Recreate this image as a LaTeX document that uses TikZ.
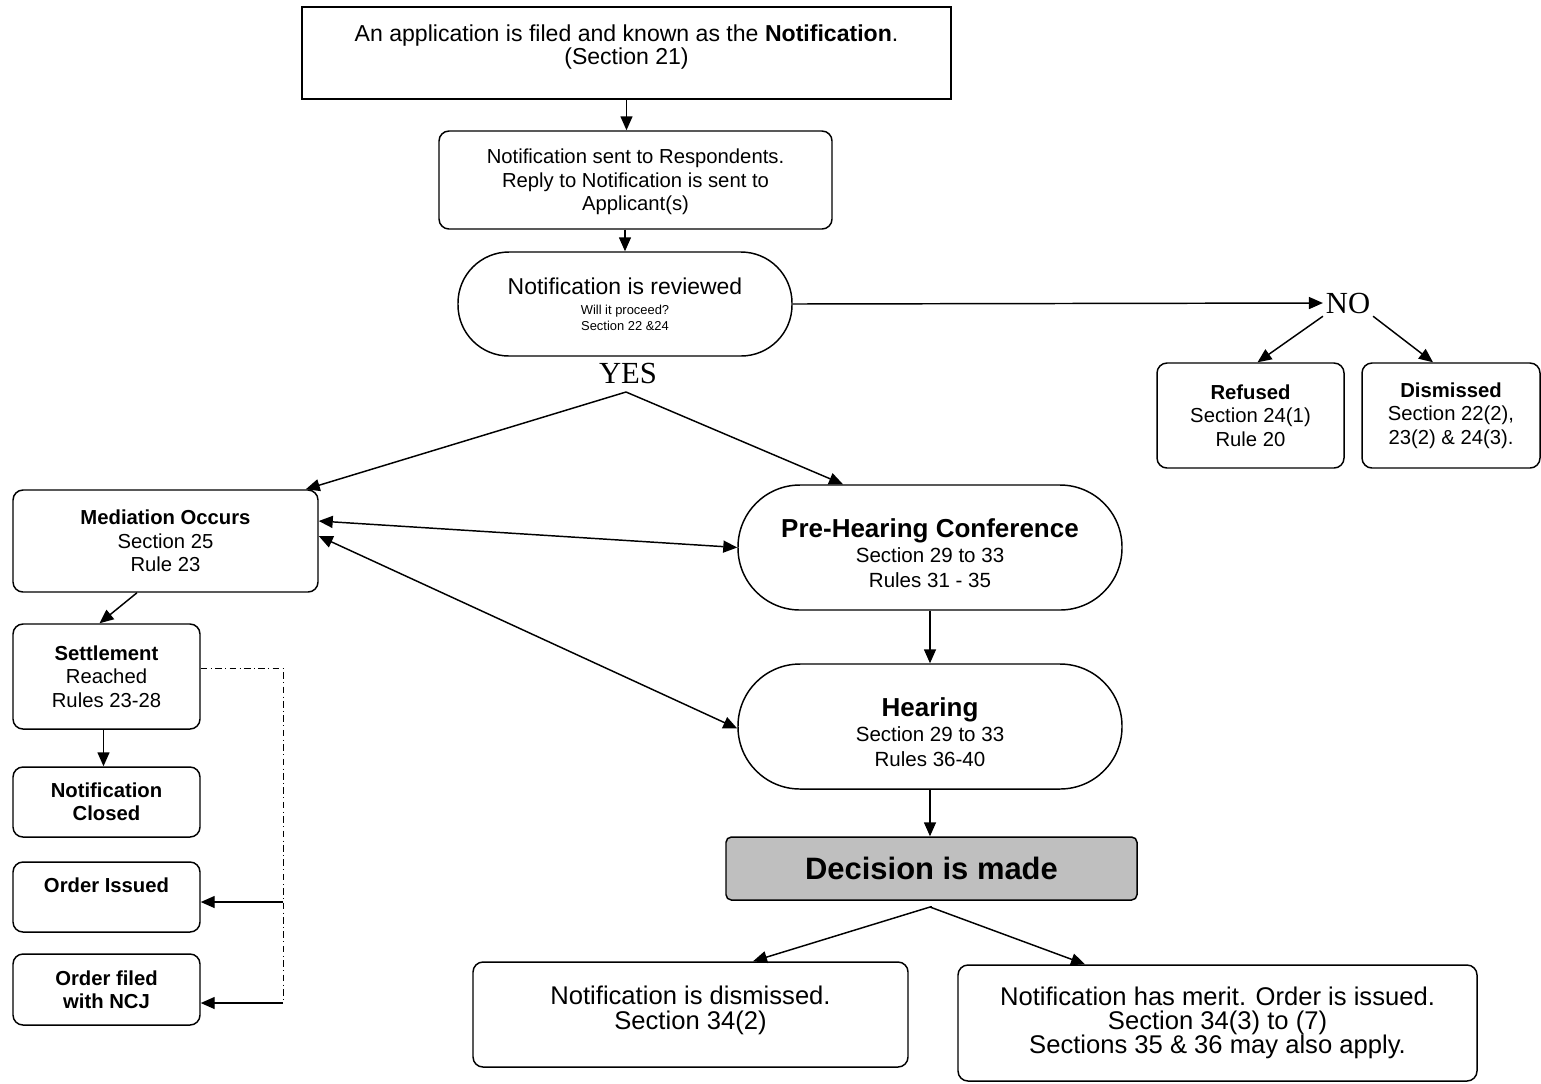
\documentclass[tikz,border=0pt]{standalone}
\usepackage{fontspec}
\setmainfont{Liberation Sans}
\newfontfamily\yesfont{Liberation Serif}
\usetikzlibrary{arrows.meta}
\def\u{0.75pt}
\newcommand\fTop{\fontsize{17.3pt}{17.4pt}\selectfont}
\newcommand\fMid{\fontsize{15.2pt}{17.5pt}\selectfont}
\newcommand\fSm{\fontsize{9.7pt}{12pt}\selectfont}
\newcommand\fRev{\fontsize{17.2pt}{12pt}\selectfont}
\newcommand\fPre{\fontsize{19.5pt}{18.7pt}\selectfont}
\newcommand\fSec{\fontsize{15.4pt}{18.7pt}\selectfont}
\newcommand\fDec{\fontsize{23.2pt}{24pt}\selectfont}
\newcommand\fBot{\fontsize{19.2pt}{18.2pt}\selectfont}
\newcommand\fYN{\fontsize{23pt}{24pt}\selectfont}
\tikzset{
  box/.style={draw, line width=1.1pt, rounded corners=7.5pt, inner sep=0pt, align=center},
  sqbox/.style={draw, line width=1.1pt, inner sep=0pt, align=center},
  arr/.style={line width=1.1pt, -{Triangle[length=10.5pt,width=9pt]}},
  darr/.style={line width=1.1pt, {Triangle[length=10.5pt,width=9pt]}-{Triangle[length=10.5pt,width=9pt]}},
  ln/.style={line width=1.1pt},
  dd/.style={line width=0.7pt, dash pattern=on 5pt off 2.5pt on 0.8pt off 2.5pt}
}
\begin{document}
\begin{tikzpicture}[x=0.75pt,y=-0.75pt]
\fill[white] (0,0) rectangle (1541,1083);
\useasboundingbox (0,0) rectangle (1541,1083);

% top flow
\node[sqbox, minimum width=649*\u, minimum height=92*\u, font=\fTop] (top) at (626.5,53)
  {An application is filed and known as the \textbf{Notification}.\\(Section 21)\\[-4.8pt]\mbox{}};
\node[box, minimum width=393*\u, minimum height=98*\u, font=\fMid] (send) at (635.5,180)
  {\rule{0pt}{14pt}Notification sent to Respondents.\\Reply to Notification is sent to\\Applicant(s)};
\node[box, rounded corners=51*\u, minimum width=334*\u, minimum height=104*\u, font=\fSm] (rev) at (625,304)
  {{\fRev Notification is reviewed}\\[3pt]Will it proceed?\\Section 22 \&24};
\node[inner sep=2pt, font=\yesfont\fYN] (no) at (1348,303) {NO};
\node[inner sep=2pt, font=\yesfont\fYN] (yes) at (628,373) {YES};
\coordinate (ya) at (626,392);

% refused / dismissed
\node[box, minimum width=187*\u, minimum height=105*\u, font=\fMid] (ref) at (1250.5,415.5)
  {\textbf{Refused}\\Section 24(1)\\Rule 20};
\node[box, minimum width=178*\u, minimum height=105*\u, font=\fMid] (dis) at (1451,415.5)
  {\textbf{Dismissed}\\Section 22(2),\\23(2) \& 24(3).};

% left column
\node[box, minimum width=305*\u, minimum height=102*\u, font=\fMid] (med) at (165.5,541)
  {\textbf{Mediation Occurs}\\Section 25\\Rule 23};
\node[box, minimum width=187*\u, minimum height=105*\u, font=\fMid] (set) at (106.5,676.5)
  {\textbf{Settlement}\\Reached\\Rules 23-28};
\node[box, minimum width=187*\u, minimum height=70*\u, font=\fMid\bfseries] (nc) at (106.5,802)
  {Notification\\Closed};
\node[box, minimum width=187*\u, minimum height=70*\u, font=\fMid\bfseries] (oi) at (106.5,897)
  {Order Issued\\\mbox{}};
\node[box, minimum width=187*\u, minimum height=71*\u, font=\fMid\bfseries] (of) at (106.5,989.5)
  {Order filed\\with NCJ};

% hearing column
\node[box, rounded corners=62*\u, minimum width=384*\u, minimum height=125*\u, font=\fSec] (pre) at (930,547.5)
  {{\fPre\bfseries\rule{0pt}{22pt}Pre-Hearing Conference}\\Section 29 to 33\\Rules 31 - 35};
\node[box, rounded corners=62*\u, minimum width=384*\u, minimum height=125*\u, font=\fSec] (hear) at (930,726.5)
  {{\fPre\bfseries\rule{0pt}{22pt}Hearing}\\Section 29 to 33\\Rules 36-40};
\node[box, rounded corners=4pt, fill=black!25, minimum width=411*\u, minimum height=63*\u, font=\fDec\bfseries] (dec) at (931.5,868.5)
  {Decision is made};
\coordinate (da) at (930,907);
\node[box, minimum width=435*\u, minimum height=105*\u, font=\fBot] (dism2) at (690.5,1014.5)
  {Notification is dismissed.\\Section 34(2)\\[-8.2pt]\mbox{}};
\node[box, minimum width=519*\u, minimum height=116*\u, font=\fBot] (merit) at (1217.5,1023)
  {Notification has merit. Order is issued.\\Section 34(3) to (7)\\Sections 35 \& 36 may also apply.};

% connectors
\draw[arr] (top.south) -- (top.south |- send.north);
\draw[arr] (rev.north |- send.south) -- (rev.north);
\draw[arr] (rev.east) -- (no.west);
\draw[arr] (no.south west) -- ([xshift=7*\u]ref.north);
\draw[arr] (no.south east) -- ([xshift=-18*\u]dis.north);
\draw[arr] (ya) -- ([xshift=-13*\u]med.north east);
\draw[arr] (ya) -- ([xshift=-87*\u]pre.north);
\draw[darr] ([yshift=20*\u]med.east) -- (pre.west);
\draw[darr] ([yshift=5*\u]med.east) -- ([yshift=-2*\u]hear.west);
\draw[arr] (pre.south) -- (hear.north);
\draw[arr] (hear.south) -- (hear.south |- dec.north);
\draw[ln] (dec.south |- da) -- (da);
\draw[arr] (da) -- ([xshift=62.5*\u]dism2.north);
\draw[arr] (da) -- ([xshift=-132.5*\u]merit.north);
\draw[arr] ([xshift=-28.5*\u]med.south) -- ([xshift=-7*\u]set.north);
\draw[arr] ([xshift=-3*\u]set.south) -- ([xshift=-3*\u]nc.north);
\coordinate (dc2) at (283,1003);
\coordinate (dc3) at (283,902);
\draw[dd] ([yshift=8.5*\u]set.east) -| (dc2);
\draw[arr] (dc3) -- (dc3 -| oi.east);
\draw[arr] (dc2) -- (dc2 -| of.east);
\end{tikzpicture}
\end{document}
